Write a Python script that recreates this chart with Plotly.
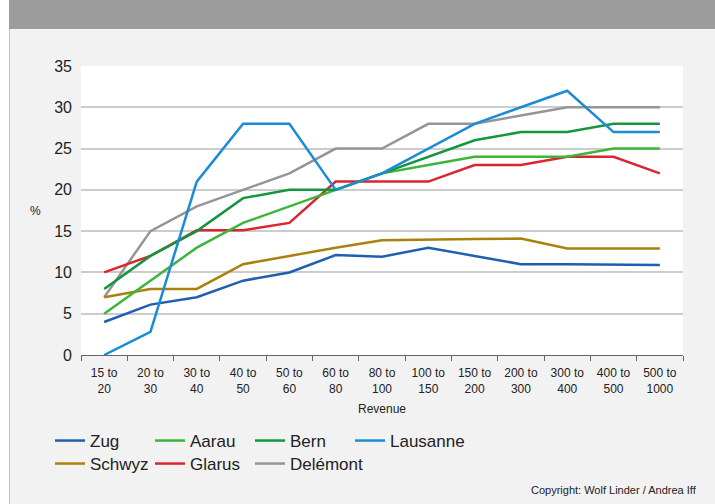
import plotly.graph_objects as go

categories = ["15 to<br>20", "20 to<br>30", "30 to<br>40", "40 to<br>50", "50 to<br>60",
              "60 to<br>80", "80 to<br>100", "100 to<br>150", "150 to<br>200", "200 to<br>300",
              "300 to<br>400", "400 to<br>500", "500 to<br>1000"]

zug      = [4, 6.1, 7, 9, 10, 12.1, 11.9, 13, 12, 11, 11, 10.95, 10.9]
aarau    = [5, 9, 13, 16, 18, 20, 22, 23, 24, 24, 24, 25, 25]
bern     = [8, 12, 15, 19, 20, 20, 22, 24, 26, 27, 27, 28, 28]
lausanne = [0, 2.8, 21, 28, 28, 20, 22, 25, 28, 30, 32, 27, 27]
schwyz   = [7, 8, 8, 11, 12, 13, 13.9, 14, 14.05, 14.1, 12.9, 12.9, 12.9]
glarus   = [10, 12, 15.1, 15.1, 16, 21, 21, 21, 23, 23, 24, 24, 22]
delemont = [7, 15, 18, 20, 22, 25, 25, 28, 28, 29, 30, 30, 30]

series = [
    ("Zug", zug, "#1f5fb0", "legend"),
    ("Aarau", aarau, "#3db53a", "legend"),
    ("Bern", bern, "#12963e", "legend"),
    ("Lausanne", lausanne, "#1a8bd6", "legend"),
    ("Schwyz", schwyz, "#a8820c", "legend2"),
    ("Glarus", glarus, "#d92530", "legend2"),
    ("Delémont", delemont, "#959595", "legend2"),
]

draw_order = ["Delémont", "Schwyz", "Zug", "Glarus", "Aarau", "Bern", "Lausanne"]
legend_rank = {s[0]: i for i, s in enumerate(series)}

fig = go.Figure()
lookup = {s[0]: s for s in series}
for name in draw_order:
    _, vals, col, leg = lookup[name]
    fig.add_trace(go.Scatter(
        x=categories, y=vals, mode="lines", name=name,
        line=dict(color=col, width=2.5),
        legend=leg,
        legendrank=legend_rank[name] + 1,
    ))

# blank spacer entries so the last legend labels are not clipped
for leg in ["legend", "legend2"]:
    fig.add_trace(go.Scatter(
        x=[None], y=[None], mode="lines", name=" ",
        line=dict(color="rgba(0,0,0,0)", width=0),
        legend=leg, legendrank=100, hoverinfo="skip",
    ))

FONT = "Liberation Sans, Arial, Helvetica, sans-serif"
L, R, T, B = 81, 32, 66, 149
W, H = 715, 504
pw = W - L - R
ph = H - T - B

def px(x):
    return (x - L) / pw

def py(y):
    return (H - B - y) / ph

leg_common = dict(
    orientation="h",
    xanchor="left", yanchor="top",
    entrywidth=55, entrywidthmode="pixels",
    font=dict(size=17, family=FONT, color="#222222"),
    bgcolor="rgba(0,0,0,0)",
    traceorder="normal",
    tracegroupgap=0,
    itemclick=False, itemdoubleclick=False,
)

fig.update_layout(
    width=W, height=H,
    margin=dict(l=L, r=R, t=T, b=B),
    paper_bgcolor="#f2f2f2",
    plot_bgcolor="#ffffff",
    font=dict(family=FONT, color="#222222"),
    showlegend=True,
    legend=dict(x=px(50), y=py(423), **leg_common),
    legend2=dict(x=px(50), y=py(446), **leg_common),
    xaxis=dict(
        type="category",
        showgrid=False,
        showline=True, linecolor="#666666", linewidth=1,
        ticks="outside", tickson="boundaries", ticklen=5, tickcolor="#666666",
        ticklabelstandoff=7,
        tickfont=dict(size=12, family=FONT, color="#222222"),
        range=[-0.5, 12.5],
        fixedrange=True,
    ),
    yaxis=dict(
        range=[0, 35],
        tickvals=[0, 5, 10, 15, 20, 25, 30, 35],
        showgrid=True, gridcolor="#cccccc", gridwidth=2,
        zeroline=False,
        showline=False,
        ticks="",
        ticklabelstandoff=8,
        tickfont=dict(size=16, family=FONT, color="#222222"),
        fixedrange=True,
    ),
    shapes=[
        dict(type="rect", xref="paper", yref="paper",
             x0=px(0), x1=px(9), y0=py(H), y1=py(0),
             fillcolor="#ffffff", line=dict(width=0), layer="below"),
        dict(type="rect", xref="paper", yref="paper",
             x0=px(9), x1=px(W), y0=py(29), y1=py(0),
             fillcolor="#9c9c9c", line=dict(width=0), layer="below"),
        dict(type="line", xref="paper", yref="paper",
             x0=px(9.5), x1=px(9.5), y0=py(H), y1=py(29),
             line=dict(color="#c4c4c4", width=1), layer="below"),
    ],
    annotations=[
        dict(text="Revenue", xref="paper", yref="paper",
             x=0.5, y=py(409), xanchor="center", yanchor="middle",
             showarrow=False, font=dict(size=12, family=FONT, color="#222222")),
        dict(text="%", xref="paper", yref="paper",
             x=px(35), y=py(211), xanchor="center", yanchor="middle",
             showarrow=False, font=dict(size=12, family=FONT, color="#222222")),
        dict(text="Copyright: Wolf Linder / Andrea Iff", xref="paper", yref="paper",
             x=px(699), y=py(490), xanchor="right", yanchor="middle",
             showarrow=False, font=dict(size=11, family=FONT, color="#222222")),
    ],
)

fig.write_html(
    "out.html",
    config={"displayModeBar": False},
    post_script="document.body.style.margin='0';document.body.style.padding='0';document.body.style.overflow='hidden';",
)
